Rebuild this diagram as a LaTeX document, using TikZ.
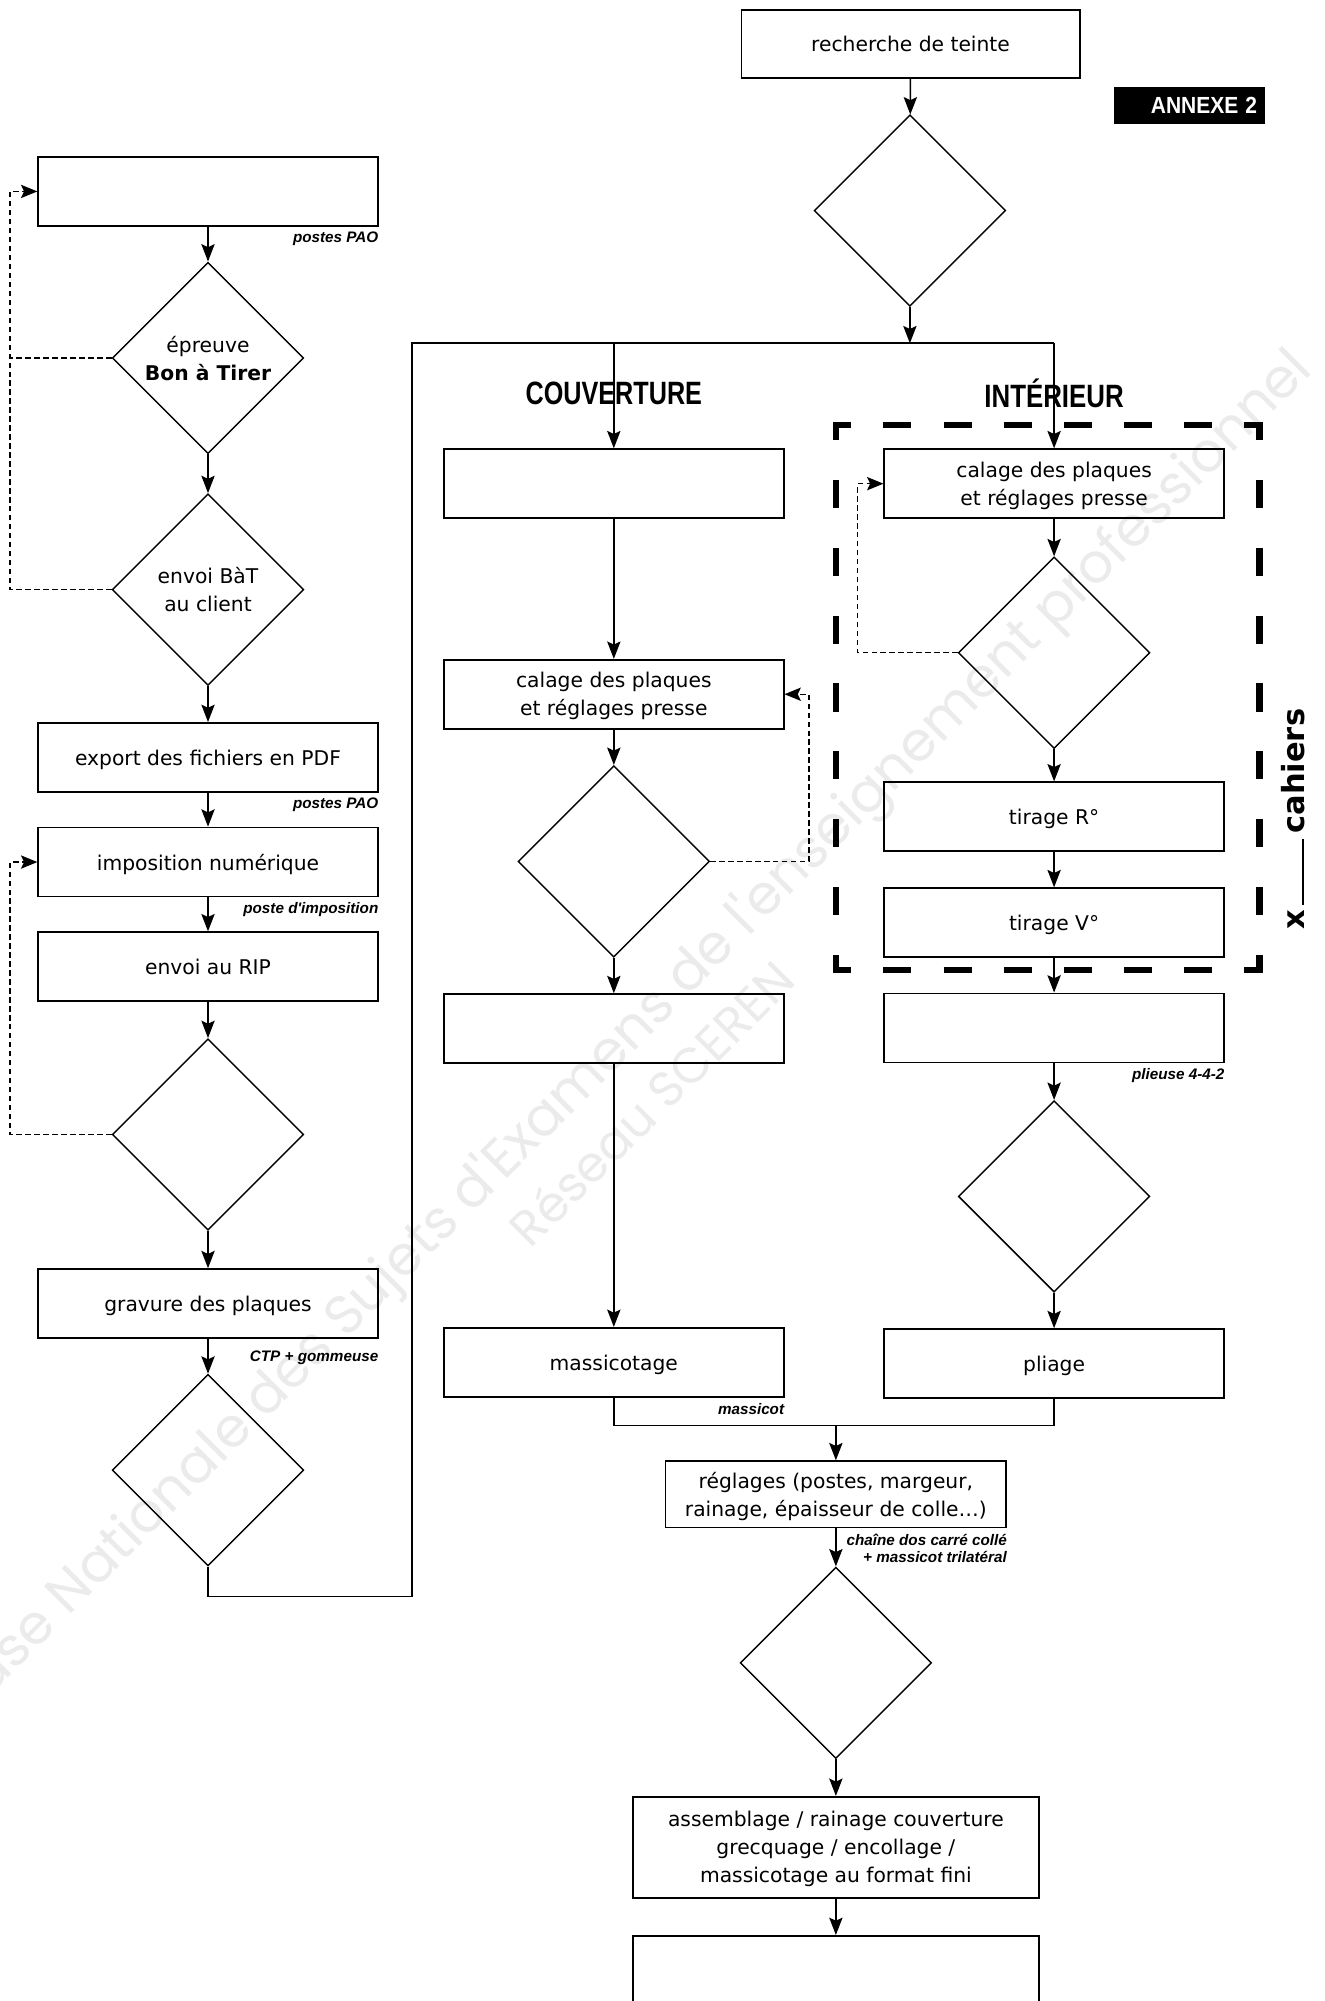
\documentclass[tikz,border=0pt]{standalone}
\usepackage{fontspec}
\setmainfont{DejaVu Sans}
\newfontfamily\tagfont{Liberation Sans}
\newfontfamily\wmfont{Poppins}
\usetikzlibrary{shapes.geometric,arrows.meta}

\begin{document}
\begin{tikzpicture}[x=0.025cm,y=-0.025cm,
  box/.style={draw,line width=1pt,minimum width=6.65cm,minimum height=1.35cm,inner sep=0pt,text depth=0pt,align=center,font=\fontsize{11.3}{15.6}\selectfont},
  test/.style={draw,diamond,line width=0.8pt,minimum width=3.75cm,minimum height=3.75cm,inner sep=0pt,text depth=0pt,align=center,font=\fontsize{11.3}{15.6}\selectfont},
  arr/.style={line width=0.9pt,-{Stealth[length=3.4mm,width=2.6mm,inset=0.6mm]}},
  ln/.style={line width=0.9pt},
  fb/.style={line width=0.8pt,dash pattern=on 3pt off 2pt,-{Stealth[length=3.2mm,width=2.6mm,inset=0.6mm]}},
  fbline/.style={line width=0.8pt,dash pattern=on 3pt off 2pt},
  tag/.style={anchor=north east,inner xsep=0pt,inner ysep=2.8pt,align=right,font=\tagfont\bfseries\itshape\fontsize{8.5}{9.5}\selectfont},
  head/.style={inner sep=0pt,font=\tagfont\bfseries\fontsize{18}{18}\selectfont},
  cahier/.style={line width=3.5pt},
  wm/.style={rotate=45,text=black!8}]

  \useasboundingbox (0,0) rectangle (1038,1568);

  \draw (493,812) node[wm,font=\wmfont\fontsize{30.5}{30.5}\selectfont] (wm1) {Base Nationale des Sujets d'Examens de l'enseignement professionnel};
\draw (510,864) node[wm,font=\wmfont\fontsize{27.5}{27.5}\selectfont] (wm2) {Réseau SCEREN};

  \draw (713.5,34.5) node[box,minimum width=6.625cm,minimum height=1.325cm] (teinte) {recherche de teinte};
\draw (713,165) node[test] (dTeinte) {};
\draw (932,82.5) node[fill=black,text=white,text width=2.65cm,align=right,minimum height=0.725cm,inner xsep=0.15cm,inner ysep=0pt,font=\tagfont\bfseries\fontsize{13}{13}\selectfont] (annexe) {\scalebox{0.9}[1]{ANNEXE 2}};

  \draw (481,308) node[head] (couv) {\scalebox{0.78}[1]{COUVERTURE}};
\draw (826,308) node[head] (inter) {\scalebox{0.8}[1]{INTÉRIEUR}};

  \draw (163,150) node[box] (pao) {};
\draw (163,280.5) node[test] (bat) {épreuve\\\textbf{Bon à Tirer}};
\draw (163,462) node[test] (envoiBat) {envoi BàT\\au client};
\draw (163,593.5) node[box] (export) {export des fichiers en PDF};
\draw (163,675.5) node[box] (impo) {imposition numérique};
\draw (163,757.5) node[box] (rip) {envoi au RIP};
\draw (163,889) node[test] (dRip) {};
\draw (163,1021.5) node[box] (gravure) {gravure des plaques};
\draw (163,1152) node[test] (dCtp) {};

  \draw (pao.south east) node[tag] (tPao) {postes PAO};
\draw (export.south east) node[tag] (tExport) {postes PAO};
\draw (impo.south east) node[tag] (tImpo) {poste d'imposition};
\draw (gravure.south east) node[tag,yshift=-0.12cm] (tGravure) {CTP + gommeuse};

  \draw (481,379) node[box] (cVide) {};
\draw (481,544) node[box] (cCalage) {calage des plaques\\et réglages presse};
\draw (481,675) node[test] (cTest) {};
\draw (481,806) node[box] (cVide2) {};
\draw (481,1067.5) node[box] (massi) {massicotage};
\draw (massi.south east) node[tag] (tMassi) {massicot};

  \draw (826,379) node[box] (iCalage) {calage des plaques\\et réglages presse};
\draw (826,511.5) node[test] (iTest) {};
\draw (826,640) node[box] (tirR) {tirage R°};
\draw (826,723) node[box] (tirV) {tirage V°};
\draw (826,805.5) node[box] (iVide) {};
\draw (iVide.south east) node[tag] (tPlieuse) {plieuse 4-4-2};
\draw (826,937.5) node[test] (iTest2) {};
\draw (826,1068.5) node[box] (pliage) {pliage};

  \draw (655,1171) node[box,minimum width=6.675cm,minimum height=1.3cm] (reglages) {réglages (postes, margeur,\\rainage, épaisseur de colle…)};
\draw (reglages.south east) node[tag] (tChaine) {chaîne dos carré collé\\+ massicot trilatéral};
\draw (655,1303) node[test] (dReg) {};
\draw (655,1447.5) node[box,minimum width=7.95cm,minimum height=1.975cm] (assemblage) {assemblage / rainage couverture\\grecquage / encollage /\\massicotage au format fini};
\draw (655,1548) node[box,minimum width=7.95cm,minimum height=1.55cm] (fin) {};

  \draw (1013,642) node[rotate=90,inner sep=0pt,font=\bfseries\fontsize{17}{17}\selectfont] (cahiers) {x\,\rule{1.3cm}{1.2pt}\,cahiers};

  \coordinate (jT) at (713,269);
\coordinate (jL) at (323,269);
\coordinate (jR) at (826,269);
\coordinate (jB) at (323,1251);
\coordinate (jM) at (655,1117);
\coordinate (fbL) at (8,0);
\coordinate (fbC) at (634,0);
\coordinate (fbR) at (672,0);

  \draw[arr] (teinte) -- (dTeinte);
  \draw[arr] (dTeinte) -- (jT);
  \draw[ln] (dCtp.south) |- (jB) -- (jL) -- (jR);
  \draw[arr] (jL -| cVide) -- (cVide);
  \draw[arr] (jR) -- (iCalage);

  \draw[arr] (pao) -- (bat);
  \draw[arr] (bat) -- (envoiBat);
  \draw[arr] (envoiBat) -- (export);
  \draw[arr] (export) -- (impo);
  \draw[arr] (impo) -- (rip);
  \draw[arr] (rip) -- (dRip);
  \draw[arr] (dRip) -- (gravure);
  \draw[arr] (gravure) -- (dCtp);

  \draw[fbline] (bat.west) -- (bat.west -| fbL);
  \draw[fb] (envoiBat.west) -- (envoiBat.west -| fbL) |- (pao.west);
  \draw[fb] (dRip.west) -- (dRip.west -| fbL) |- (impo.west);

  \draw[arr] (cVide) -- (cCalage);
  \draw[arr] (cCalage) -- (cTest);
  \draw[arr] (cTest) -- (cVide2);
  \draw[arr] (cVide2) -- (massi);
  \draw[fb] (cTest.east) -- (cTest.east -| fbC) |- (cCalage.east);

  \draw[arr] (iCalage) -- (iTest);
  \draw[arr] (iTest) -- (tirR);
  \draw[arr] (tirR) -- (tirV);
  \draw[arr] (tirV) -- (iVide);
  \draw[arr] (iVide) -- (iTest2);
  \draw[arr] (iTest2) -- (pliage);
  \draw[fb] (iTest.west) -- (iTest.west -| fbR) |- (iCalage.west);

  \draw[ln] (massi) |- (jM) -| (pliage);
  \draw[arr] (jM) -- (reglages);
  \draw[arr] (reglages) -- (dReg);
  \draw[arr] (dReg) -- (assemblage);
  \draw[arr] (assemblage) -- (fin);

  \draw[cahier] (667,333) -- (655,333) -- (655,345);
\draw[cahier] (975,333) -- (987,333) -- (987,345);
\draw[cahier] (667,760) -- (655,760) -- (655,748);
\draw[cahier] (975,760) -- (987,760) -- (987,748);
\draw[cahier,dash pattern=on 0.55cm off 0.629cm,dash phase=0.55cm] (667,333) -- (975,333);
\draw[cahier,dash pattern=on 0.55cm off 0.629cm,dash phase=0.55cm] (667,760) -- (975,760);
\draw[cahier,dash pattern=on 0.55cm off 0.778cm,dash phase=0.55cm] (655,345) -- (655,748);
\draw[cahier,dash pattern=on 0.55cm off 0.778cm,dash phase=0.55cm] (987,345) -- (987,748);

\end{tikzpicture}
\end{document}
